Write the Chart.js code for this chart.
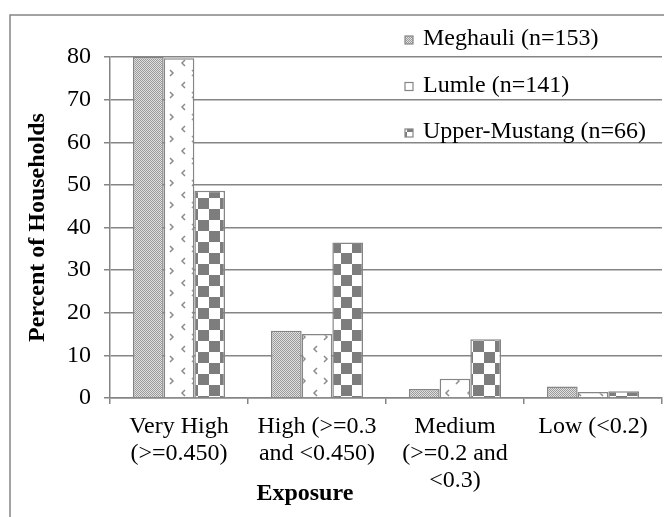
<!DOCTYPE html>
<html>
<head>
<meta charset="utf-8">
<title>Exposure</title>
<script src="https://cdn.jsdelivr.net/npm/chart.js@4.4.1/dist/chart.umd.min.js"></script>
<style>
  html, body { margin: 0; padding: 0; background: #fff; }
  #wrap { width: 664px; height: 517px; }
</style>
</head>
<body>
<div id="wrap"><canvas id="barChart" width="664" height="517"></canvas></div>
<script>
'use strict';

// data
const categories = [
	['Very High', '(>=0.450)'],
	['High (>=0.3', 'and <0.450)'],
	['Medium', '(>=0.2 and', '<0.3)'],
	['Low (<0.2)']
];
const seriesNames = ['Meghauli (n=153)', 'Lumle (n=141)', 'Upper-Mustang (n=66)'];
const meghauli = [80.0, 15.8, 2.1, 2.7];
const lumle = [79.7, 15.0, 4.5, 1.4];
const upperMustang = [48.6, 36.5, 13.8, 1.6];
const yTicks = [0, 10, 20, 30, 40, 50, 60, 70, 80];

const GRAY = '#858585';
const SERIF = '"Liberation Serif", "Times New Roman", serif';
const FONT_SIZE = 24;

function makePattern(kind) {
	const c = document.createElement('canvas');
	const g = c.getContext('2d');
	if (kind === 'dots') {
		c.width = 2; c.height = 2;
		g.fillStyle = '#e0e0e0';
		g.fillRect(0, 0, 2, 2);
		g.fillStyle = '#9a9a9a';
		g.fillRect(0, 0, 1, 1);
		g.fillRect(1, 1, 1, 1);
	} else if (kind === 'chevron') {
		c.width = 22; c.height = 22;
		g.fillStyle = '#fff';
		g.fillRect(0, 0, 22, 22);
		g.strokeStyle = '#8c8c8c';
		g.lineWidth = 1.5;
		g.beginPath();
		// ">" mark
		g.moveTo(16, 4); g.lineTo(19, 7); g.lineTo(16, 10);
		// "<" mark
		g.moveTo(9, 16); g.lineTo(6, 19); g.lineTo(9, 22);
		g.moveTo(9, -6); g.lineTo(6, -3); g.lineTo(9, 0);
		g.stroke();
	} else {
		c.width = 22; c.height = 22;
		g.fillStyle = '#fff';
		g.fillRect(0, 0, 22, 22);
		g.fillStyle = '#7d7d7d';
		g.fillRect(0, 0, 11, 11);
		g.fillRect(11, 11, 11, 11);
	}
	return g.createPattern(c, 'repeat');
}

const fills = [makePattern('dots'), makePattern('chevron'), makePattern('check')];

// outer frame of the figure (runs off right and bottom)
const framePlugin = {
	id: 'frame',
	beforeDraw(chart) {
		const ctx = chart.ctx;
		ctx.save();
		ctx.fillStyle = '#fff';
		ctx.fillRect(0, 0, chart.width, chart.height);
		ctx.strokeStyle = GRAY;
		ctx.lineWidth = 1.5;
		ctx.strokeRect(10, 15, chart.width + 40, chart.height + 40);
		ctx.restore();
	}
};

// legend inside the plot and the moved x axis title
const extrasPlugin = {
	id: 'extras',
	afterDraw(chart) {
		const ctx = chart.ctx;
		const area = chart.chartArea;
		ctx.save();
		ctx.font = FONT_SIZE + 'px ' + SERIF;
		ctx.textBaseline = 'alphabetic';
		ctx.textAlign = 'left';
		chart.data.datasets.forEach((ds, i) => {
			const base = 45 + i * 46.5;
			ctx.fillStyle = ds.backgroundColor;
			ctx.fillRect(405, base - 9, 8, 8);
			ctx.strokeStyle = GRAY;
			ctx.lineWidth = 1.2;
			ctx.strokeRect(405, base - 9, 8, 8);
			ctx.fillStyle = '#000';
			ctx.fillText(ds.label, 423, base);
		});
		ctx.font = 'bold ' + FONT_SIZE + 'px ' + SERIF;
		ctx.textAlign = 'center';
		ctx.fillText('Exposure', area.left + (area.right - area.left) * 0.353, 500);
		ctx.restore();
	}
};

const barChartData = {
	labels: categories,
	datasets: [
		{ label: seriesNames[0], data: meghauli, backgroundColor: fills[0] },
		{ label: seriesNames[1], data: lumle, backgroundColor: fills[1] },
		{ label: seriesNames[2], data: upperMustang, backgroundColor: fills[2] }
	].map(ds => Object.assign(ds, {
		borderColor: GRAY,
		borderWidth: 1.5,
		borderSkipped: 'bottom',
		categoryPercentage: 0.667,
		barPercentage: 1.0
	}))
};

const barChartOptions = {
	responsive: false,
	animation: false,
	layout: { padding: { left: 0, top: 57, right: 2, bottom: 0 } },
	plugins: {
		legend: { display: false },
		tooltip: { enabled: false }
	},
	scales: {
		x: {
			grid: { drawOnChartArea: false, drawTicks: true, tickLength: 6, color: GRAY, lineWidth: 1.5 },
			border: { color: GRAY, width: 1.5 },
			ticks: {
				color: '#000',
				font: { family: SERIF, size: FONT_SIZE, lineHeight: 1.125 },
				padding: 9,
				maxRotation: 0,
				autoSkip: false
			},
			afterFit(scale) { scale.height = 119; }
		},
		y: {
			min: yTicks[0],
			max: yTicks[yTicks.length - 1],
			afterBuildTicks(scale) { scale.ticks = yTicks.map(v => ({ value: v })); },
			grid: { color: GRAY, lineWidth: 1.5, tickLength: 6 },
			border: { color: GRAY, width: 1.5 },
			ticks: {
				color: '#000',
				font: { family: SERIF, size: FONT_SIZE },
				padding: 13
			},
			title: {
				display: true,
				text: 'Percent of Households',
				color: '#000',
				font: { family: SERIF, size: FONT_SIZE, weight: 'bold' },
				padding: { top: 23, bottom: 0 }
			},
			afterFit(scale) { scale.width = 110; }
		}
	}
};

const barChartCanvas = document.getElementById('barChart').getContext('2d');
new Chart(barChartCanvas, {
	type: 'bar',
	data: barChartData,
	options: barChartOptions,
	plugins: [framePlugin, extrasPlugin]
});
</script>
</body>
</html>
